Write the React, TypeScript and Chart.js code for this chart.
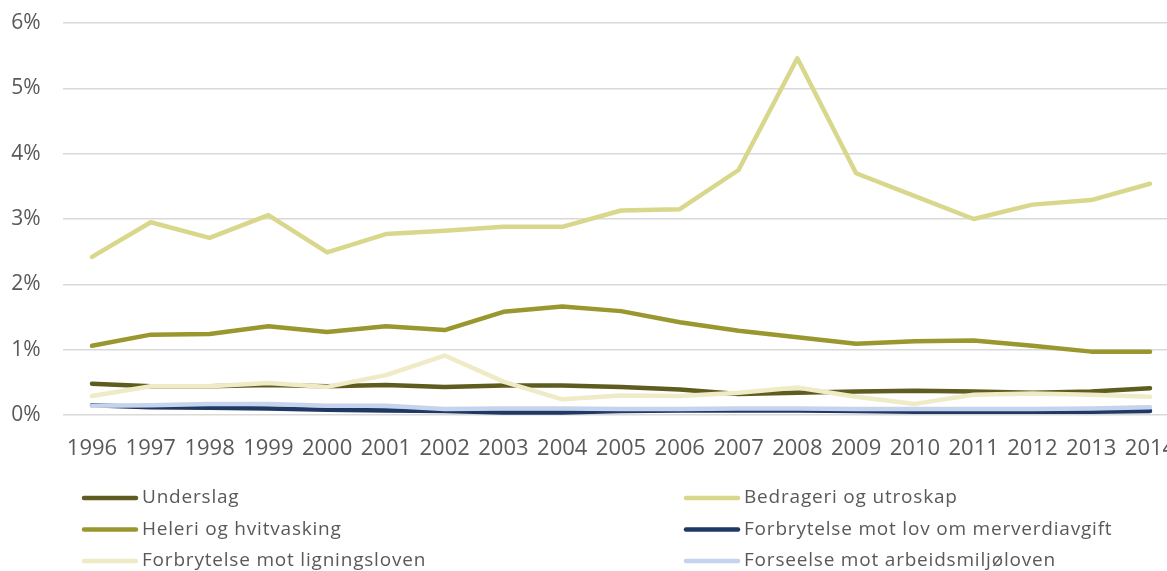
import React, { useEffect, useRef } from "react";
import { Chart, registerables } from "chart.js";

Chart.register(...registerables);

const years = [
  "1996", "1997", "1998", "1999", "2000", "2001", "2002", "2003", "2004", "2005",
  "2006", "2007", "2008", "2009", "2010", "2011", "2012", "2013", "2014",
];

// Shares in percent
const underslag = [0.48, 0.44, 0.44, 0.46, 0.44, 0.46, 0.43, 0.45, 0.45, 0.43, 0.39, 0.32, 0.34, 0.36, 0.37, 0.36, 0.34, 0.36, 0.41];
const bedrageri = [2.42, 2.95, 2.71, 3.06, 2.49, 2.77, 2.82, 2.88, 2.88, 3.13, 3.15, 3.75, 5.46, 3.70, 3.35, 3.00, 3.22, 3.29, 3.54];
const heleri = [1.06, 1.23, 1.24, 1.36, 1.27, 1.36, 1.30, 1.58, 1.66, 1.59, 1.42, 1.29, 1.19, 1.09, 1.13, 1.14, 1.06, 0.97, 0.97];
const merverdiavgift = [0.15, 0.12, 0.11, 0.10, 0.08, 0.07, 0.06, 0.04, 0.04, 0.06, 0.07, 0.07, 0.07, 0.06, 0.05, 0.05, 0.05, 0.05, 0.06];
const ligningsloven = [0.29, 0.44, 0.44, 0.49, 0.43, 0.61, 0.91, 0.51, 0.24, 0.30, 0.29, 0.34, 0.42, 0.28, 0.17, 0.31, 0.33, 0.31, 0.28];
const arbeidsmiljoloven = [0.14, 0.15, 0.17, 0.17, 0.14, 0.14, 0.09, 0.10, 0.10, 0.09, 0.09, 0.10, 0.10, 0.09, 0.09, 0.09, 0.09, 0.10, 0.12];

const seriesNames = [
  "Underslag",
  "Bedrageri og utroskap",
  "Heleri og hvitvasking",
  "Forbrytelse mot lov om merverdiavgift",
  "Forbrytelse mot ligningsloven",
  "Forseelse mot arbeidsmiljøloven",
];
const seriesValues = [underslag, bedrageri, heleri, merverdiavgift, ligningsloven, arbeidsmiljoloven];
const seriesColors = ["#5E5D1F", "#D9D78B", "#9B972F", "#1F3864", "#EEEBC6", "#C6D3EC"];

const yTicks = [0, 1, 2, 3, 4, 5, 6];

const TEXT = "#595959";
const FONT = "'Open Sans', sans-serif";

// Two-column legend under the plot
const twoColumnLegend = {
  id: "twoColumnLegend",
  afterDraw(chart: any) {
    const ctx = chart.ctx as CanvasRenderingContext2D;
    const colX = [82, 684];
    const rowY = [498, 529.5, 561];
    ctx.save();
    ctx.font = `19px ${FONT}`;
    (ctx as any).letterSpacing = "0.8px";
    ctx.textBaseline = "middle";
    ctx.textAlign = "left";
    chart.data.datasets.forEach((ds: any, i: number) => {
      const x = colX[i % 2];
      const y = rowY[Math.floor(i / 2)];
      ctx.strokeStyle = ds.borderColor;
      ctx.lineWidth = 4.5;
      ctx.lineCap = "round";
      ctx.beginPath();
      ctx.moveTo(x + 2, y);
      ctx.lineTo(x + 54, y);
      ctx.stroke();
      ctx.fillStyle = TEXT;
      ctx.fillText(ds.label, x + 60, y);
    });
    ctx.restore();
  },
};

export default function App() {
  const canvasRef = useRef<HTMLCanvasElement | null>(null);

  useEffect(() => {
    if (!canvasRef.current) return;
    const chart = new Chart(canvasRef.current, {
      type: "line",
      data: {
        labels: years,
        datasets: seriesNames.map((name, i) => ({
          label: name,
          data: seriesValues[i],
          borderColor: seriesColors[i],
          backgroundColor: seriesColors[i],
          borderWidth: 4.5,
          borderCapStyle: "round",
          borderJoinStyle: "round",
          pointRadius: 0,
          tension: 0,
          order: seriesNames.length - i,
        })),
      },
      options: {
        responsive: false,
        animation: false,
        layout: { padding: { left: 0, top: 23, right: 20.6, bottom: 0 } },
        plugins: {
          legend: { display: false },
          tooltip: { enabled: false },
        },
        scales: {
          x: {
            offset: true,
            grid: { display: false, drawTicks: false },
            border: { display: false },
            ticks: {
              color: TEXT,
              font: { family: FONT, size: 22 },
              padding: 21,
              maxRotation: 0,
              autoSkip: false,
            },
            afterFit: (s: any) => {
              s.height = 156;
              s.paddingLeft = 0;
              s.paddingRight = 0;
            },
          },
          y: {
            min: 0,
            max: 6,
            afterBuildTicks: (s: any) => {
              s.ticks = yTicks.map((v) => ({ value: v }));
            },
            grid: { color: "#D9D9D9", lineWidth: 1.5, drawTicks: false },
            border: { display: false },
            ticks: {
              color: TEXT,
              font: { family: FONT, size: 21 },
              padding: 22,
              callback: (v: any) => `${v}%`,
            },
            afterFit: (s: any) => {
              s.width = 62.6;
              s.paddingTop = 0;
              s.paddingBottom = 0;
            },
          },
        },
      },
      plugins: [twoColumnLegend],
    });
    return () => chart.destroy();
  }, []);

  return (
    <div
      style={{
        position: "fixed",
        left: 0,
        top: 0,
        width: 1167,
        height: 571,
        overflow: "hidden",
        background: "#fff",
      }}
    >
      <canvas ref={canvasRef} width={1200} height={571} style={{ display: "block", width: 1200, height: 571 }} />
    </div>
  );
}
